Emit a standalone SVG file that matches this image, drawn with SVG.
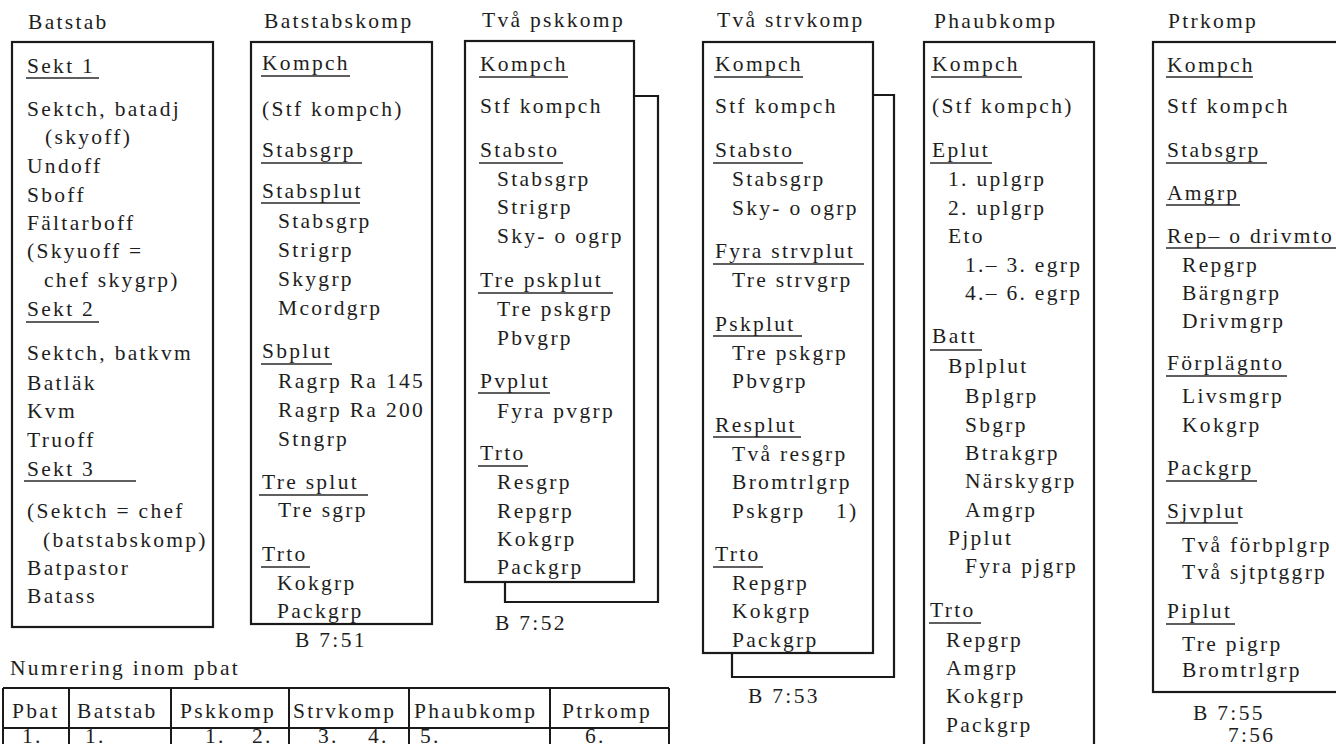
<svg xmlns="http://www.w3.org/2000/svg" width="1336" height="744" viewBox="0 0 1336 744">
<style>
text{font-family:"Liberation Serif","Times New Roman",serif;font-size:21.5px;fill:#1e1e1e;letter-spacing:2.3px}
.b{fill:none;stroke:#1a1a1a;stroke-width:2.2}
.s{fill:none;stroke:#1a1a1a;stroke-width:2.2}
.u{stroke:#2a2a2a;stroke-width:1.6}
.g{fill:none;stroke:#1a1a1a;stroke-width:2}
</style>
<rect width="1336" height="744" fill="#fff"/>
<g id="connectors"/>

<g id="batstab">
<text x="28" y="29">Batstab</text>
<rect class="b" x="12" y="42" width="201" height="585"/>
<text x="27" y="73">Sekt 1</text><line class="u" x1="26" y1="78" x2="99" y2="78"/>
<text x="27" y="116">Sektch, batadj</text>
<text x="45" y="144">(skyoff)</text>
<text x="27" y="173">Undoff</text>
<text x="27" y="202">Sboff</text>
<text x="27" y="230">Fältarboff</text>
<text x="27" y="258">(Skyuoff =</text>
<text x="44" y="287">chef skygrp)</text>
<text x="27" y="316">Sekt 2</text><line class="u" x1="26" y1="322" x2="99" y2="322"/>
<text x="27" y="360">Sektch, batkvm</text>
<text x="27" y="390">Batläk</text>
<text x="27" y="418">Kvm</text>
<text x="27" y="447">Truoff</text>
<text x="27" y="476">Sekt 3</text><line class="u" x1="24" y1="481" x2="136" y2="481"/>
<text x="27" y="518">(Sektch = chef</text>
<text x="43" y="547">(batstabskomp)</text>
<text x="27" y="575">Batpastor</text>
<text x="27" y="603">Batass</text>
</g>

<g id="batstabskomp">
<text x="264" y="28">Batstabskomp</text>
<rect class="b" x="251" y="42" width="181" height="582"/>
<text x="262" y="70">Kompch</text><line class="u" x1="261" y1="76" x2="350" y2="76"/>
<text x="262" y="116">(Stf kompch)</text>
<text x="262" y="157">Stabsgrp</text><line class="u" x1="261" y1="163" x2="362" y2="163"/>
<text x="262" y="198">Stabsplut</text><line class="u" x1="261" y1="203" x2="360" y2="203"/>
<text x="278" y="228">Stabsgrp</text>
<text x="278" y="257">Strigrp</text>
<text x="278" y="286">Skygrp</text>
<text x="278" y="315">Mcordgrp</text>
<text x="262" y="358">Sbplut</text><line class="u" x1="261" y1="364" x2="332" y2="364"/>
<text x="278" y="388">Ragrp Ra 145</text>
<text x="278" y="417">Ragrp Ra 200</text>
<text x="278" y="446">Stngrp</text>
<text x="262" y="489">Tre splut</text><line class="u" x1="259" y1="495" x2="368" y2="495"/>
<text x="278" y="517">Tre sgrp</text>
<text x="262" y="561">Trto</text><line class="u" x1="261" y1="567" x2="310" y2="567"/>
<text x="277" y="590">Kokgrp</text>
<text x="277" y="618">Packgrp</text>
<text x="295" y="647">B 7:51</text>
</g>

<g id="tva-pskkomp">
<text x="482" y="27">Två pskkomp</text>
<polyline class="s" points="634,96 658,96 658,602 505,602 505,582"/>
<rect class="b" x="465" y="41" width="169" height="541"/>
<text x="480" y="71">Kompch</text><line class="u" x1="479" y1="77" x2="568" y2="77"/>
<text x="480" y="113">Stf kompch</text>
<text x="480" y="157">Stabsto</text><line class="u" x1="479" y1="163" x2="563" y2="163"/>
<text x="497" y="186">Stabsgrp</text>
<text x="497" y="214">Strigrp</text>
<text x="497" y="243">Sky- o ogrp</text>
<text x="480" y="287">Tre pskplut</text><line class="u" x1="478" y1="293" x2="613" y2="293"/>
<text x="497" y="316">Tre pskgrp</text>
<text x="497" y="345">Pbvgrp</text>
<text x="480" y="388">Pvplut</text><line class="u" x1="478" y1="393" x2="550" y2="393"/>
<text x="497" y="418">Fyra pvgrp</text>
<text x="480" y="460">Trto</text><line class="u" x1="478" y1="466" x2="528" y2="466"/>
<text x="497" y="489">Resgrp</text>
<text x="497" y="518">Repgrp</text>
<text x="497" y="546">Kokgrp</text>
<text x="497" y="574">Packgrp</text>
<text x="495" y="630">B 7:52</text>
</g>

<g id="tva-strvkomp">
<text x="717" y="27">Två strvkomp</text>
<polyline class="s" points="873,95 894,95 894,677 732,677 732,653"/>
<rect class="b" x="703" y="42" width="170" height="611"/>
<text x="715" y="71">Kompch</text><line class="u" x1="714" y1="77" x2="803" y2="77"/>
<text x="715" y="113">Stf kompch</text>
<text x="715" y="157">Stabsto</text><line class="u" x1="713" y1="163" x2="803" y2="163"/>
<text x="732" y="186">Stabsgrp</text>
<text x="732" y="215">Sky- o ogrp</text>
<text x="715" y="258">Fyra strvplut</text><line class="u" x1="713" y1="264" x2="864" y2="264"/>
<text x="732" y="287">Tre strvgrp</text>
<text x="715" y="331">Pskplut</text><line class="u" x1="713" y1="336" x2="802" y2="336"/>
<text x="732" y="360">Tre pskgrp</text>
<text x="732" y="388">Pbvgrp</text>
<text x="715" y="432">Resplut</text><line class="u" x1="713" y1="437" x2="801" y2="437"/>
<text x="732" y="461">Två resgrp</text>
<text x="732" y="489">Bromtrlgrp</text>
<text x="732" y="518">Pskgrp</text><text x="836" y="518">1)</text>
<text x="715" y="561">Trto</text><line class="u" x1="713" y1="567" x2="763" y2="567"/>
<text x="732" y="590">Repgrp</text>
<text x="732" y="618">Kokgrp</text>
<text x="732" y="647">Packgrp</text>
<text x="748" y="703">B 7:53</text>
</g>

<g id="phaubkomp">
<text x="934" y="28">Phaubkomp</text>
<rect class="b" x="924" y="42" width="170" height="720"/>
<text x="932" y="71">Kompch</text><line class="u" x1="931" y1="77" x2="1022" y2="77"/>
<text x="932" y="113">(Stf kompch)</text>
<text x="932" y="157">Eplut</text><line class="u" x1="930" y1="163" x2="992" y2="163"/>
<text x="948" y="186">1. uplgrp</text>
<text x="948" y="215">2. uplgrp</text>
<text x="948" y="243">Eto</text>
<text x="965" y="272">1.– 3. egrp</text>
<text x="965" y="300">4.– 6. egrp</text>
<text x="932" y="343">Batt</text><line class="u" x1="930" y1="350" x2="982" y2="350"/>
<text x="948" y="373">Bplplut</text>
<text x="965" y="403">Bplgrp</text>
<text x="965" y="432">Sbgrp</text>
<text x="965" y="460">Btrakgrp</text>
<text x="965" y="488">Närskygrp</text>
<text x="965" y="517">Amgrp</text>
<text x="948" y="545">Pjplut</text>
<text x="965" y="573">Fyra pjgrp</text>
<text x="930" y="617">Trto</text><line class="u" x1="929" y1="623" x2="981" y2="623"/>
<text x="946" y="647">Repgrp</text>
<text x="946" y="675">Amgrp</text>
<text x="946" y="703">Kokgrp</text>
<text x="946" y="732">Packgrp</text>
</g>

<g id="ptrkomp">
<text x="1168" y="28">Ptrkomp</text>
<rect class="b" x="1153" y="42" width="200" height="650"/>
<text x="1167" y="72">Kompch</text><line class="u" x1="1166" y1="77" x2="1253" y2="77"/>
<text x="1167" y="113">Stf kompch</text>
<text x="1167" y="157">Stabsgrp</text><line class="u" x1="1166" y1="163" x2="1267" y2="163"/>
<text x="1167" y="200">Amgrp</text><line class="u" x1="1166" y1="205" x2="1240" y2="205"/>
<text x="1167" y="243">Rep– o drivmto</text><line class="u" x1="1166" y1="248" x2="1336" y2="248"/>
<text x="1182" y="272">Repgrp</text>
<text x="1182" y="300">Bärgngrp</text>
<text x="1182" y="328">Drivmgrp</text>
<text x="1167" y="370">Förplägnto</text><line class="u" x1="1166" y1="376" x2="1287" y2="376"/>
<text x="1182" y="403">Livsmgrp</text>
<text x="1182" y="432">Kokgrp</text>
<text x="1167" y="475">Packgrp</text><line class="u" x1="1166" y1="481" x2="1257" y2="481"/>
<text x="1167" y="518">Sjvplut</text><line class="u" x1="1166" y1="523" x2="1238" y2="523"/>
<text x="1182" y="552">Två förbplgrp</text>
<text x="1182" y="579">Två sjtptggrp</text>
<text x="1167" y="618">Piplut</text><line class="u" x1="1166" y1="624" x2="1235" y2="624"/>
<text x="1182" y="651">Tre pigrp</text>
<text x="1182" y="677">Bromtrlgrp</text>
<text x="1193" y="720">B  7:55</text>
<text x="1228" y="742">7:56</text>
</g>

<g id="numrering">
<text x="10" y="675">Numrering inom pbat</text>
<path class="g" d="M3,688 H669 M3,728 H669 M3,688 V750 M69,688 V750 M171,688 V750 M289,688 V750 M409,688 V750 M550,688 V750 M669,688 V750"/>
<text x="12" y="718">Pbat</text>
<text x="77" y="718">Batstab</text>
<text x="180" y="718">Pskkomp</text>
<text x="293" y="718">Strvkomp</text>
<text x="414" y="718">Phaubkomp</text>
<text x="562" y="718">Ptrkomp</text>
<text x="22" y="743">1.</text>
<text x="85" y="743">1.</text>
<text x="205" y="743">1.</text>
<text x="252" y="743">2.</text>
<text x="318" y="743">3.</text>
<text x="368" y="743">4.</text>
<text x="420" y="743">5.</text>
<text x="585" y="743">6.</text>
</g>
</svg>
